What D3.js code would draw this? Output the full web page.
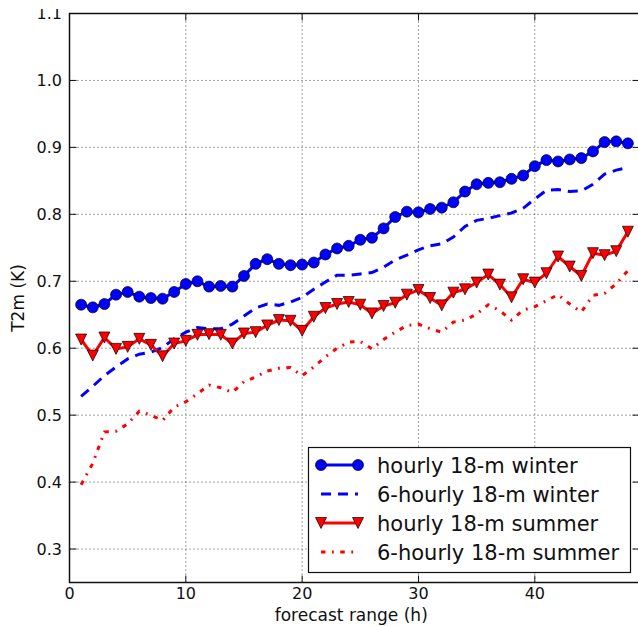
<!DOCTYPE html>
<html>
<head>
<meta charset="utf-8">
<script src="https://cdn.jsdelivr.net/npm/d3@7"></script>
<style>
  body { margin: 0; background: #fff; }
  svg { display: block; font-family: "DejaVu Sans", sans-serif; }
</style>
</head>
<body>
<div id="chart"></div>
<script>
// forecast range (h)
const hours = [1, 2, 3, 4, 5, 6, 7, 8, 9, 10, 11, 12, 13, 14, 15, 16, 17, 18, 19, 20, 21, 22, 23, 24,
    25, 26, 27, 28, 29, 30, 31, 32, 33, 34, 35, 36, 37, 38, 39, 40, 41, 42, 43, 44, 45, 46, 47, 48];

// T2m (K) values
const hourlyWinter = [0.665, 0.661, 0.666, 0.680, 0.684, 0.677, 0.675, 0.674, 0.684, 0.696,
    0.700, 0.692, 0.693, 0.692, 0.708, 0.726, 0.733, 0.726, 0.724, 0.725,
    0.728, 0.740, 0.749, 0.753, 0.762, 0.765, 0.779, 0.796, 0.804, 0.803,
    0.808, 0.810, 0.818, 0.834, 0.845, 0.847, 0.848, 0.853, 0.858, 0.872,
    0.881, 0.879, 0.882, 0.884, 0.894, 0.908, 0.909, 0.906];

const sixHourlyWinter = [0.528, 0.543, 0.559, 0.572, 0.584, 0.591, 0.594, 0.601, 0.614, 0.624,
    0.631, 0.629, 0.629, 0.636, 0.648, 0.660, 0.666, 0.664, 0.669, 0.676,
    0.688, 0.699, 0.709, 0.709, 0.711, 0.713, 0.721, 0.732, 0.739, 0.747,
    0.753, 0.756, 0.766, 0.782, 0.791, 0.794, 0.798, 0.802, 0.809, 0.823,
    0.836, 0.837, 0.834, 0.835, 0.845, 0.860, 0.866, 0.870];

const hourlySummer = [0.613, 0.589, 0.616, 0.599, 0.602, 0.614, 0.605, 0.588, 0.607, 0.611,
    0.620, 0.621, 0.620, 0.607, 0.622, 0.624, 0.634, 0.642, 0.641, 0.626,
    0.647, 0.660, 0.666, 0.669, 0.665, 0.652, 0.663, 0.668, 0.680, 0.687,
    0.675, 0.664, 0.683, 0.688, 0.698, 0.710, 0.695, 0.676, 0.703, 0.698,
    0.712, 0.737, 0.722, 0.708, 0.742, 0.739, 0.745, 0.774];

const sixHourlySummer = [0.396, 0.428, 0.475, 0.476, 0.487, 0.506, 0.500, 0.492, 0.512, 0.520,
    0.532, 0.545, 0.541, 0.534, 0.550, 0.557, 0.566, 0.570, 0.571, 0.559,
    0.572, 0.587, 0.600, 0.609, 0.610, 0.599, 0.613, 0.624, 0.634, 0.636,
    0.629, 0.624, 0.639, 0.642, 0.651, 0.665, 0.656, 0.642, 0.657, 0.662,
    0.671, 0.680, 0.666, 0.654, 0.679, 0.682, 0.696, 0.716];

const seriesNames = ["hourly 18-m winter", "6-hourly 18-m winter", "hourly 18-m summer", "6-hourly 18-m summer"];
const xTicks = [0, 10, 20, 30, 40];
const yTicks = [0.3, 0.4, 0.5, 0.6, 0.7, 0.8, 0.9, 1.0, 1.1];

// series styles
const series = [
    { name: seriesNames[0], values: hourlyWinter, color: "#0000ff", dash: null, marker: "circle" },
    { name: seriesNames[1], values: sixHourlyWinter, color: "#0000ff", dash: "10,7", marker: null },
    { name: seriesNames[2], values: hourlySummer, color: "#ff0000", dash: null, marker: "triangle" },
    { name: seriesNames[3], values: sixHourlySummer, color: "#ff0000", dash: "4.5,6.5,1.8,6.5", marker: null }
];

const width = 638;
const height = 626;
const plotLeft = 69.5, plotRight = 639.5, plotTop = 13.5, plotBottom = 582.5;

const svg = d3.select("#chart")
    .append("svg")
    .attr("width", width)
    .attr("height", height);

const x = d3.scaleLinear().domain([0, 49]).range([plotLeft, plotRight]);
const y = d3.scaleLinear().domain([0.25, 1.1]).range([plotBottom, plotTop]);

// grid lines (dotted)
svg.append("g")
    .selectAll("line")
    .data(xTicks.filter(d => d > 0))
    .enter().append("line")
    .attr("x1", d => x(d)).attr("x2", d => x(d))
    .attr("y1", plotTop).attr("y2", plotBottom)
    .attr("stroke", "#444").attr("stroke-width", 1).attr("stroke-dasharray", "1,3");

svg.append("g")
    .selectAll("line")
    .data(yTicks.filter(d => d < 1.1))
    .enter().append("line")
    .attr("x1", plotLeft).attr("x2", plotRight)
    .attr("y1", d => y(d)).attr("y2", d => y(d))
    .attr("stroke", "#444").attr("stroke-width", 1).attr("stroke-dasharray", "1,3");

// lines
const line = d3.line()
    .x((d, i) => x(hours[i]))
    .y(d => y(d));

const triangle = s => `M0,${s}L${-s},${-s}L${s},${-s}Z`;

series.forEach(s => {
    svg.append("path")
        .datum(s.values)
        .attr("fill", "none")
        .attr("stroke", s.color)
        .attr("stroke-width", 3)
        .attr("stroke-dasharray", s.dash)
        .attr("d", line);

    if (s.marker === "circle") {
        svg.append("g").selectAll("circle")
            .data(s.values)
            .enter().append("circle")
            .attr("cx", (d, i) => x(hours[i]))
            .attr("cy", d => y(d))
            .attr("r", 5.5)
            .attr("fill", s.color)
            .attr("stroke", "#000").attr("stroke-width", 0.7);
    } else if (s.marker === "triangle") {
        svg.append("g").selectAll("path")
            .data(s.values)
            .enter().append("path")
            .attr("transform", (d, i) => `translate(${x(hours[i])},${y(d)})`)
            .attr("d", triangle(5.5))
            .attr("fill", s.color)
            .attr("stroke", "#000").attr("stroke-width", 0.7);
    }
});

// frame
svg.append("rect")
    .attr("x", plotLeft).attr("y", plotTop)
    .attr("width", plotRight - plotLeft).attr("height", plotBottom - plotTop)
    .attr("fill", "none").attr("stroke", "#111").attr("stroke-width", 1.5);

// ticks, pointing inward on all four sides
const tickLen = 7;
xTicks.forEach(t => {
    svg.append("line").attr("x1", x(t)).attr("x2", x(t)).attr("y1", plotBottom).attr("y2", plotBottom - tickLen).attr("stroke", "#111");
    svg.append("line").attr("x1", x(t)).attr("x2", x(t)).attr("y1", plotTop).attr("y2", plotTop + tickLen).attr("stroke", "#111");
});
yTicks.forEach(t => {
    svg.append("line").attr("x1", plotLeft).attr("x2", plotLeft + tickLen).attr("y1", y(t)).attr("y2", y(t)).attr("stroke", "#111");
    svg.append("line").attr("x1", plotRight).attr("x2", plotRight - tickLen).attr("y1", y(t)).attr("y2", y(t)).attr("stroke", "#111");
});

// tick labels
svg.append("g").selectAll("text")
    .data(xTicks)
    .enter().append("text")
    .attr("x", d => x(d))
    .attr("y", 599)
    .attr("text-anchor", "middle")
    .attr("font-size", 16)
    .attr("fill", "#111")
    .text(d => d);

svg.append("g").selectAll("text")
    .data(yTicks)
    .enter().append("text")
    .attr("x", 62)
    .attr("y", d => y(d))
    .attr("dy", "0.36em")
    .attr("text-anchor", "end")
    .attr("font-size", 16)
    .attr("fill", "#111")
    .text(d => d.toFixed(1));

// axis labels
svg.append("text")
    .attr("x", (plotLeft + 633) / 2)
    .attr("y", 621)
    .attr("text-anchor", "middle")
    .attr("font-size", 17)
    .attr("fill", "#111")
    .text("forecast range (h)");

svg.append("text")
    .attr("transform", `translate(24,${(plotTop + plotBottom) / 2}) rotate(-90)`)
    .attr("text-anchor", "middle")
    .attr("font-size", 17)
    .attr("fill", "#111")
    .text("T2m (K)");

// legend
const legend = svg.append("g");
legend.append("rect")
    .attr("x", 308.5).attr("y", 447.5)
    .attr("width", 322).attr("height", 125)
    .attr("fill", "#fff").attr("stroke", "#111").attr("stroke-width", 1.2);

series.forEach((s, i) => {
    const ly = 465 + i * 29;
    legend.append("line")
        .attr("x1", 321).attr("x2", 358)
        .attr("y1", ly).attr("y2", ly)
        .attr("stroke", s.color).attr("stroke-width", 3)
        .attr("stroke-dasharray", s.dash);
    [321, 358].forEach(mx => {
        if (s.marker === "circle") {
            legend.append("circle").attr("cx", mx).attr("cy", ly).attr("r", 5.5)
                .attr("fill", s.color).attr("stroke", "#000").attr("stroke-width", 0.7);
        } else if (s.marker === "triangle") {
            legend.append("path").attr("transform", `translate(${mx},${ly})`).attr("d", triangle(5.5))
                .attr("fill", s.color).attr("stroke", "#000").attr("stroke-width", 0.7);
        }
    });
    legend.append("text")
        .attr("x", 377).attr("y", ly)
        .attr("dy", "0.36em")
        .attr("font-size", 21)
        .attr("fill", "#111")
        .text(s.name);
});

// the top of the figure is cut off in the source image
svg.append("rect").attr("x", 0).attr("y", 0).attr("width", width).attr("height", 9).attr("fill", "#fff");
</script>
</body>
</html>
